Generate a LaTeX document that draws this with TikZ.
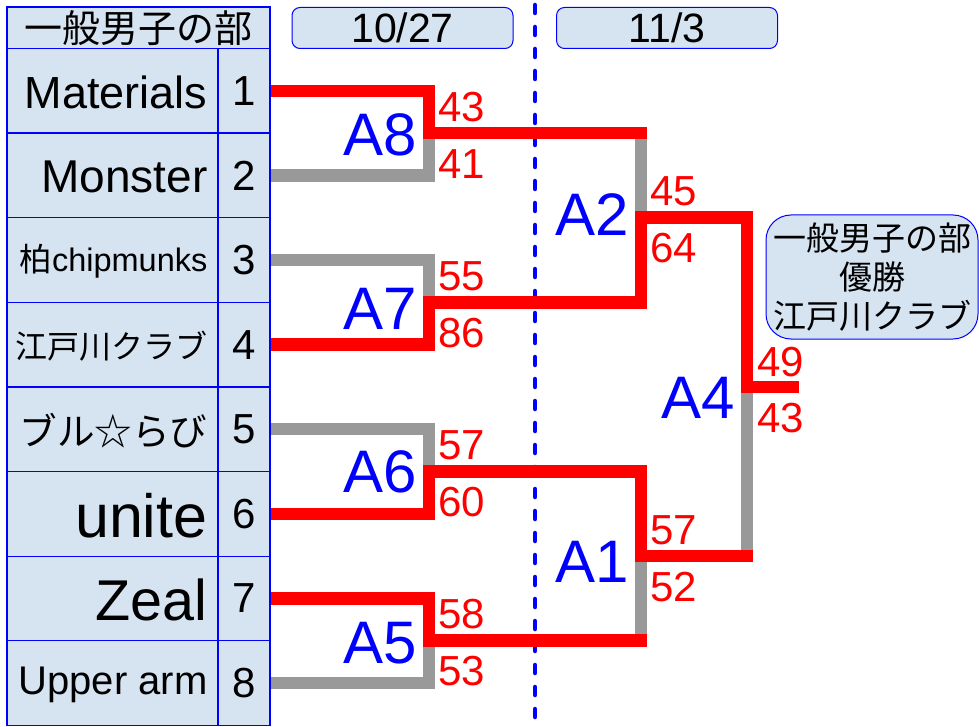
\documentclass[tikz,border=0pt]{standalone}
\usepackage{fontspec}
\setmainfont{Liberation Sans}
\newfontfamily\jp{Noto Sans CJK JP}
\usetikzlibrary{calc}
\definecolor{cellblue}{RGB}{214,227,241}
\definecolor{losegray}{RGB}{153,153,153}
\tikzset{
  cell/.style={draw=blue,line width=1.2pt,fill=cellblue,inner sep=0pt},
  datebox/.style={draw=blue,line width=1pt,fill=cellblue,rounded corners=8pt,minimum width=221pt,minimum height=41pt,font=\fontsize{41}{41}\selectfont},
  win/.style={draw=red,line width=12.5pt},
  lose/.style={draw=losegray,line width=12.5pt},
  game/.style={text=blue,font=\fontsize{60}{60}\selectfont,anchor=east,inner sep=0pt},
  score/.style={text=red,font=\fontsize{42}{42}\selectfont,anchor=base west,inner sep=0pt},
}

\begin{document}
\begin{tikzpicture}[x=1pt,y=-1pt]
		\useasboundingbox (0,0) rectangle (979,727);
		% table of teams
		\node[cell,minimum width=263pt,minimum height=41.5pt,font=\jp\fontsize{38}{38}\selectfont] (hdr) at (138.5,27.75) {一般男子の部};
		\foreach \i/\nm/\sz in {1/Materials/45, 2/Monster/46, 3/{{\jp 柏}chipmunks}/32.5, 4/{\jp 江戸川クラブ}/32, 5/{\jp ブル☆らび}/37.6, 6/unite/61, 7/Zeal/57.5, 8/Upper arm/40}{
			\node[cell,minimum width=211pt,minimum height=84.6pt] (t\i) at (112.5,{48.5+84.6*(\i-0.5)}) {};
			\node[anchor=east,inner sep=0pt,font=\fontsize{\sz}{\sz}\selectfont] (l\i) at ([xshift=-11pt,yshift=-1.5pt]t\i.east) {\nm};
			\node[cell,minimum width=52pt,minimum height=84.6pt,font=\fontsize{42}{42}\selectfont] (n\i) at (244,{48.5+84.6*(\i-0.5)}) {\i};
		}
		% dates
		\node[datebox] (d1) at (402.5,28) {10/27};
		\node[datebox] (d2) at (667,28) {11/3};
		\coordinate (dtop) at (535,5);
		\coordinate (dbot) at (535,727);
		\draw[blue,line width=4.5pt,dash pattern=on 8pt off 14pt,line cap=round] (dtop) -- (dbot);
		% games
		\coordinate (a8) at (429,133.1);
		\coordinate (a7) at (429,302.3);
		\coordinate (a6) at (429,471.5);
		\coordinate (a5) at (429,640.7);
		\coordinate (a2) at (641,217.7);
		\coordinate (a1) at (641,556.1);
		\coordinate (a4) at (747,386.9);
		\coordinate (champ) at (799,386.9);
		\draw[lose] (n2.east) -| (a8);
		\draw[lose] (n3.east) -| (a7);
		\draw[lose] (n5.east) -| (a6);
		\draw[lose] (n8.east) -| (a5);
		\draw[lose] (a8 -| a2) -- (a2);
		\draw[lose] (a5 -| a1) -- (a1);
		\draw[lose] (a1) -| (a4);
		\draw[win,shorten >=-6.25pt] (n1.east) -| (a8) -- (a8 -| a2);
		\draw[win] (n4.east) -| (a7) -- (a7 -| a2) -- (a2) -| (a4) -- (champ);
		\draw[win,shorten >=-6.25pt] (n6.east) -| (a6) -- (a6 -| a1) -- (a1) -- (a1 -| a4);
		\draw[win,shorten >=-6.25pt] (n7.east) -| (a5) -- (a5 -| a1);
		\node[game] (g8) at ($(a8)+(-12,2)$) {A8};
		\node[game] (g7) at ($(a7)+(-12,7)$) {A7};
		\node[game] (g6) at ($(a6)+(-12,0)$) {A6};
		\node[game] (g5) at ($(a5)+(-12,2)$) {A5};
		\node[game] (g2) at ($(a2)+(-12,-3)$) {A2};
		\node[game] (g1) at ($(a1)+(-12,6)$) {A1};
		\node[game] (g4) at ($(a4)+(-12,11)$) {A4};
		% scores
		\node[score] (s8a) at ($(a8)+(9,-12)$) {43};
		\node[score] (s8b) at ($(a8)+(9,45)$) {41};
		\node[score] (s7a) at ($(a7)+(9,-12)$) {55};
		\node[score] (s7b) at ($(a7)+(9,45)$) {86};
		\node[score] (s6a) at ($(a6)+(9,-12)$) {57};
		\node[score] (s6b) at ($(a6)+(9,45)$) {60};
		\node[score] (s5a) at ($(a5)+(9,-12)$) {58};
		\node[score] (s5b) at ($(a5)+(9,45)$) {53};
		\node[score] (s2a) at ($(a2)+(9,-12)$) {45};
		\node[score] (s2b) at ($(a2)+(9,45)$) {64};
		\node[score] (s1a) at ($(a1)+(9,-12)$) {57};
		\node[score] (s1b) at ($(a1)+(9,45)$) {52};
		\node[score] (s4a) at ($(a4)+(10,-10)$) {49};
		\node[score] (s4b) at ($(a4)+(10,46)$) {43};
		% winner
		\node[draw=blue,line width=1pt,fill=cellblue,rounded corners=25pt,minimum width=212pt,minimum height=124pt,align=center,font=\jp\fontsize{33}{39}\selectfont] (winner) at (872,277) {一般男子の部\\優勝\\江戸川クラブ};
	\end{tikzpicture}
\end{document}
